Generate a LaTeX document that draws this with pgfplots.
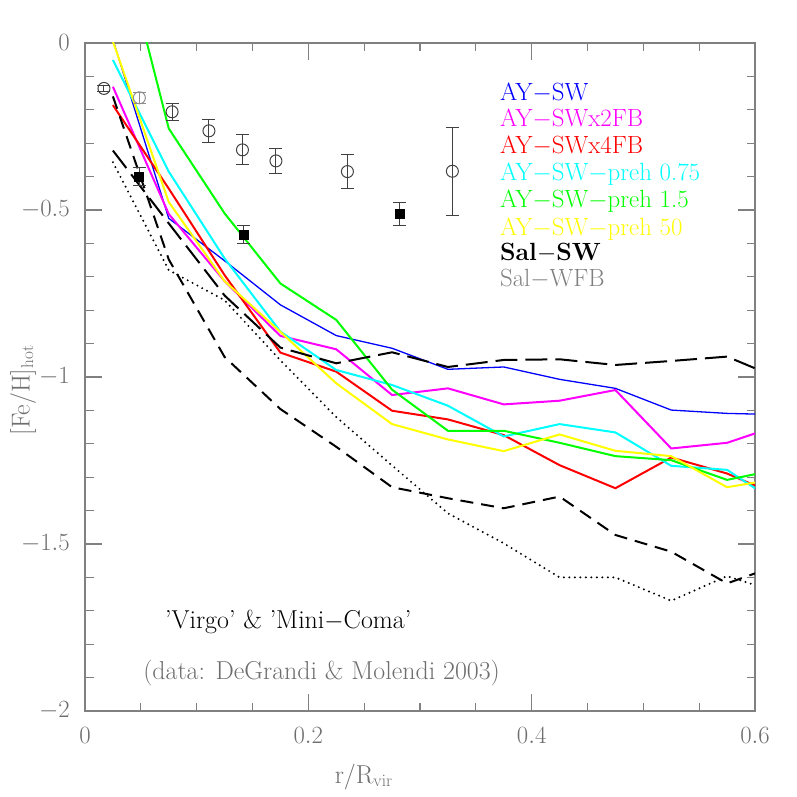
\documentclass[border=0pt]{standalone}
\usepackage{pgfplots}
\pgfplotsset{compat=1.18}
\definecolor{axgray}{RGB}{128,128,128}
\definecolor{txgray}{RGB}{110,110,110}
\definecolor{cblue}{RGB}{0,0,255}
\definecolor{cmag}{RGB}{255,0,255}
\definecolor{cred}{RGB}{255,0,0}
\definecolor{ccyan}{RGB}{0,255,255}
\definecolor{cgreen}{RGB}{0,255,0}
\definecolor{cyel}{RGB}{255,255,0}
\begin{document}
\begin{tikzpicture}
\useasboundingbox (-85bp,-86bp) rectangle (712bp,711bp);
\begin{axis}[
  scale only axis, width=670bp, height=668bp,
  at={(0,0)}, anchor=south west,
  xmin=0, xmax=0.6, ymin=-2, ymax=0,
  xtick={0,0.2,0.4,0.6}, ytick={-2,-1.5,-1,-0.5,0},
  minor x tick num=3, minor y tick num=4,
  tick align=inside, tick pos=both, xticklabel pos=left, yticklabel pos=left,
  major tick length=17bp, minor tick length=8.5bp,
  axis line style={draw=axgray, line width=1.2bp},
  every tick/.style={draw=axgray, line width=1.2bp},
  xticklabel style={font=\fontsize{26}{30}\selectfont, text=txgray, inner sep=0pt, anchor=north, yshift=-16bp},
  yticklabel style={font=\fontsize{26}{30}\selectfont, text=txgray, inner sep=0pt, anchor=east, xshift=-15bp},
  xlabel={r/R$_{\mathrm{vir}}$},
  ylabel={[Fe/H]$_{\mathrm{hot}}$},
  xlabel style={font=\fontsize{26}{30}\selectfont, text=txgray, at={(axis description cs:0.416,-0.108)}, anchor=base, inner sep=0pt},
  ylabel style={font=\fontsize{26}{30}\selectfont, text=txgray, at={(axis description cs:-0.0925,0.48)}, anchor=center, inner sep=0pt},
]
% AY-SW
\addplot[cblue, line width=1.3bp] coordinates {
(0.025,0.01) (0.075,-0.525) (0.125,-0.652) (0.175,-0.784) (0.225,-0.876) (0.275,-0.914)
(0.325,-0.977) (0.375,-0.970) (0.425,-1.007) (0.475,-1.034) (0.525,-1.099) (0.575,-1.109) (0.6,-1.111)};
% AY-SWx2FB
\addplot[cmag, line width=2bp] coordinates {
(0.025,-0.131) (0.075,-0.512) (0.125,-0.713) (0.175,-0.877) (0.225,-0.917) (0.275,-1.054)
(0.325,-1.034) (0.375,-1.082) (0.425,-1.071) (0.475,-1.039) (0.525,-1.214) (0.575,-1.197) (0.6,-1.169)};
% AY-SWx4FB
\addplot[cred, line width=2bp] coordinates {
(0.025,-0.186) (0.075,-0.436) (0.125,-0.695) (0.175,-0.927) (0.225,-0.984) (0.275,-1.101)
(0.325,-1.127) (0.375,-1.174) (0.425,-1.264) (0.475,-1.333) (0.525,-1.241) (0.575,-1.289) (0.6,-1.325)};
% preh 0.75
\addplot[ccyan, line width=2bp] coordinates {
(0.025,-0.051) (0.075,-0.385) (0.125,-0.645) (0.175,-0.864) (0.225,-0.979) (0.275,-1.024)
(0.325,-1.086) (0.375,-1.178) (0.425,-1.141) (0.475,-1.166) (0.525,-1.266) (0.575,-1.278) (0.6,-1.333)};
% preh 1.5
\addplot[cgreen, line width=2bp] coordinates {
(0.025,0.40) (0.075,-0.256) (0.125,-0.51) (0.175,-0.72) (0.225,-0.829) (0.275,-1.038)
(0.325,-1.161) (0.375,-1.161) (0.425,-1.197) (0.475,-1.237) (0.525,-1.249) (0.575,-1.308) (0.6,-1.291)};
% preh 50
\addplot[cyel, line width=2bp] coordinates {
(0.025,0.005) (0.075,-0.476) (0.125,-0.713) (0.175,-0.865) (0.225,-1.019) (0.275,-1.141)
(0.325,-1.187) (0.375,-1.222) (0.425,-1.172) (0.475,-1.221) (0.525,-1.237) (0.575,-1.330) (0.6,-1.316)};
% black long dashed
\addplot[black, line width=2bp, dash pattern=on 22bp off 8bp] coordinates {
(0.025,-0.322) (0.075,-0.540) (0.125,-0.756) (0.175,-0.912) (0.225,-0.959) (0.275,-0.926)
(0.325,-0.970) (0.375,-0.949) (0.425,-0.947) (0.475,-0.964) (0.525,-0.952) (0.575,-0.939) (0.6,-0.974)};
% black medium dashed
\addplot[black, line width=2bp, dash pattern=on 13bp off 8bp] coordinates {
(0.025,-0.16) (0.075,-0.648) (0.125,-0.94) (0.175,-1.096) (0.225,-1.209) (0.275,-1.330)
(0.325,-1.363) (0.375,-1.393) (0.425,-1.358) (0.475,-1.473) (0.525,-1.523) (0.575,-1.618) (0.6,-1.588)};
% black dotted
\addplot[black, line width=2.2bp, line cap=round, dash pattern=on 0bp off 5.5bp] coordinates {
(0.025,-0.357) (0.075,-0.68) (0.125,-0.77) (0.175,-0.95) (0.225,-1.12) (0.275,-1.265)
(0.325,-1.408) (0.375,-1.498) (0.425,-1.60) (0.475,-1.60) (0.525,-1.67) (0.575,-1.596) (0.6,-1.623)};
% data: open circles
\addplot[only marks, mark=o, mark size=6bp, black!75, line width=1bp,
  error bars/.cd, y dir=both, y explicit,
  error bar style={line width=1bp, black!75},
  error mark options={rotate=90, mark size=6.5bp, line width=1bp, black!75}] coordinates {
(0.017,-0.136) +- (0,0.010)
(0.078,-0.206) +- (0,0.025)
(0.111,-0.263) +- (0,0.035)
(0.141,-0.320) +- (0,0.045)
(0.171,-0.353) +- (0,0.038)
(0.235,-0.385) +- (0,0.052)
(0.329,-0.384) +- (0,0.132)};
\addplot[only marks, mark=o, mark size=6bp, black!45, line width=1bp,
  error bars/.cd, y dir=both, y explicit,
  error bar style={line width=1bp, black!45},
  error mark options={rotate=90, mark size=6.5bp, line width=1bp, black!45}] coordinates {
(0.0487,-0.164) +- (0,0.017)};
% data: filled squares
\addplot[only marks, mark=square*, mark size=4.5bp, black,
  error bars/.cd, y dir=both, y explicit,
  error bar style={line width=1bp, black!75},
  error mark options={rotate=90, mark size=6.5bp, line width=1bp, black!75}] coordinates {
(0.0484,-0.400) +- (0,0.028)
(0.142,-0.574) +- (0,0.027)
(0.282,-0.512) +- (0,0.033)};
% legend texts
\begin{scope}[every node/.style={anchor=base west, inner sep=0pt, font=\fontsize{25}{28}\selectfont}]
\node[text=cblue] at (axis cs:0.3715,-0.171) {AY$-$SW};
\node[text=cmag] at (axis cs:0.3715,-0.251) {AY$-$SWx2FB};
\node[text=cred] at (axis cs:0.3715,-0.331) {AY$-$SWx4FB};
\node[text=ccyan] at (axis cs:0.3715,-0.413) {AY$-$SW$-$preh 0.75};
\node[text=cgreen] at (axis cs:0.3715,-0.493) {AY$-$SW$-$preh 1.5};
\node[text=cyel] at (axis cs:0.3715,-0.575) {AY$-$SW$-$preh 50};
\node[text=black] at (axis cs:0.3715,-0.650) {\bfseries Sal$-$SW};
\node[text=axgray] at (axis cs:0.3715,-0.730) {Sal$-$WFB};
\node[text=black, font=\fontsize{26}{30}\selectfont] at (axis cs:0.0716,-1.752) {'Virgo' \& 'Mini$-$Coma'};
\node[text=txgray, font=\fontsize{26}{30}\selectfont] at (axis cs:0.052,-1.905) {(data: DeGrandi \& Molendi 2003)};
\end{scope}
\end{axis}
\end{tikzpicture}
\end{document}
